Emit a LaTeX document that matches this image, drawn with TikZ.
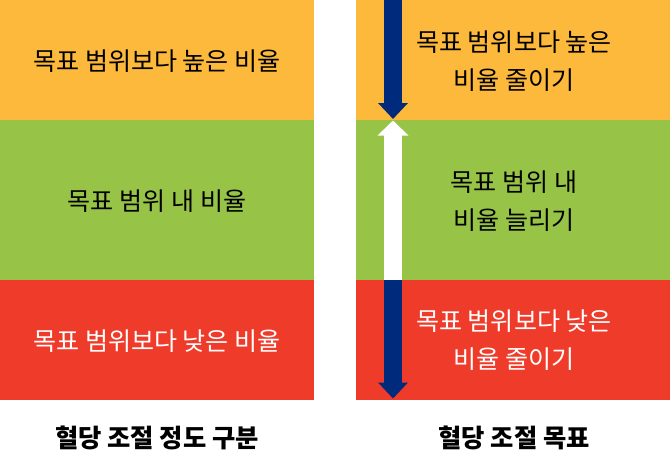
\documentclass[tikz,border=0pt]{standalone}
\usepackage{fontspec}
\setmainfont{Noto Sans CJK KR}
\usetikzlibrary{arrows.meta}
\definecolor{corange}{HTML}{FDB93B}
\definecolor{cgreen}{HTML}{97C447}
\definecolor{cred}{HTML}{EF3B2A}
\definecolor{cnavy}{HTML}{002B7C}
\tikzset{
  lbl/.style={font=\fontsize{18.8pt}{28.5pt}\selectfont,align=center,text=black},
  wlbl/.style={lbl,text=white},
  title/.style={font=\fontsize{19pt}{22pt}\selectfont\bfseries,text=black},
  navyarrow/.style={draw=cnavy,line width=13.5pt,-{Triangle[width=21.75pt,length=12pt]}},
  whitearrow/.style={draw=white,line width=13.5pt,-{Triangle[width=22.5pt,length=11.25pt]}},
}
\begin{document}
\begin{tikzpicture}[x=0.75pt,y=-0.75pt]
\useasboundingbox (0,0) rectangle (670,453);
% left column
\fill[corange] (0,0) rectangle (314,120);
\fill[cgreen] (0,120) rectangle (314,280);
\fill[cred] (0,280) rectangle (314,400);
% right column
\fill[corange] (356,0) rectangle (670,120);
\fill[cgreen] (356,120) rectangle (670,280);
\fill[cred] (356,280) rectangle (670,400);
% left labels
\node[lbl] (l1) at (157,61) {목표 범위보다 높은 비율};
\node[lbl] (l2) at (157,201) {목표 범위 내 비율};
\node[wlbl] (l3) at (157,341) {목표 범위보다 낮은 비율};
% right labels
\node[lbl] (r1) at (514,61) {목표 범위보다 높은\\비율 줄이기};
\node[lbl] (r2) at (514,201) {목표 범위 내\\비율 늘리기};
\node[wlbl] (r3) at (514,340) {목표 범위보다 낮은\\비율 줄이기};
% titles
\node[title] (t1) at (157,438) {혈당 조절 정도 구분};
\node[title] (t2) at (514,438) {혈당 조절 목표};
% arrows
\coordinate (a0) at (393,0);
\coordinate (a1) at (393,119);
\coordinate (w0) at (393,280);
\coordinate (w1) at (393,120.5);
\coordinate (b0) at (393,279.5);
\coordinate (b1) at (393,398.5);
\draw[navyarrow] (a0) -- (a1);
\draw[whitearrow] (w0) -- (w1);
\draw[navyarrow] (b0) -- (b1);
\end{tikzpicture}
\end{document}
